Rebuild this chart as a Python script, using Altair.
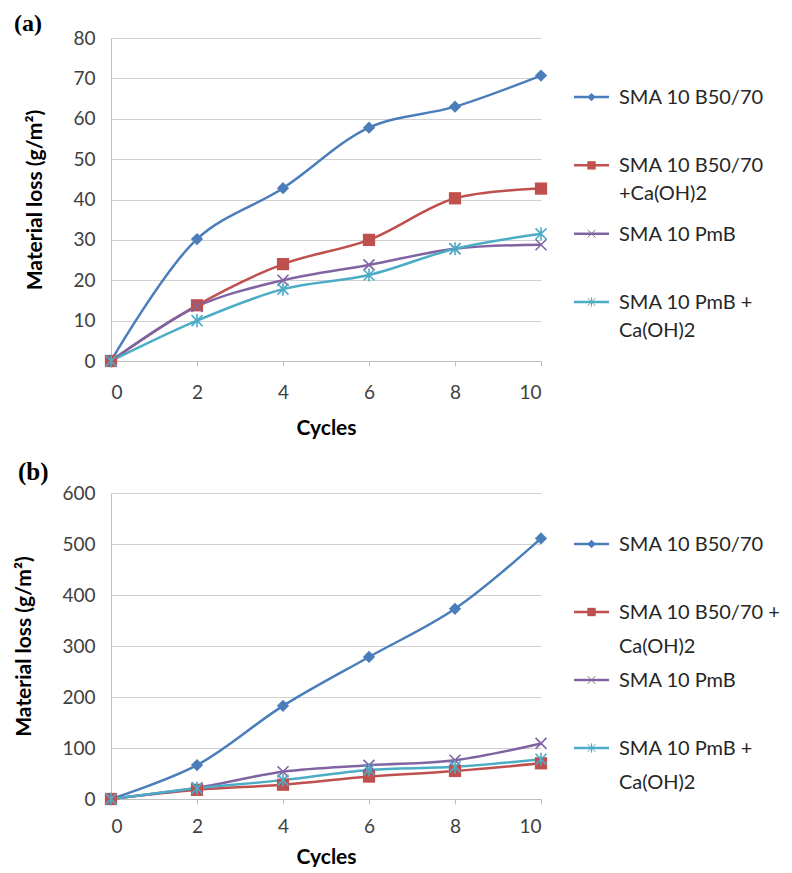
import altair as alt
import pandas as pd

cycles = [0, 2, 4, 6, 8, 10]
series_names = ["SMA 10 B50/70", "SMA 10 B50/70 +Ca(OH)2", "SMA 10 PmB", "SMA 10 PmB + Ca(OH)2"]

# panel (a)
a_b5070 = [0, 30.2, 42.8, 57.8, 63.0, 70.7]
a_b5070_ca = [0, 13.8, 24.0, 30.0, 40.3, 42.7]
a_pmb = [0, 13.5, 20.0, 23.8, 27.8, 28.8]
a_pmb_ca = [0, 10.0, 17.8, 21.3, 27.8, 31.5]

# panel (b)
b_b5070 = [0, 66.5, 182.6, 278.5, 373.0, 511.0]
b_b5070_ca = [0, 18.0, 28.0, 44.0, 55.0, 70.0]
b_pmb = [0, 22.0, 53.5, 66.0, 76.0, 109.0]
b_pmb_ca = [0, 21.0, 37.0, 57.0, 63.0, 78.0]

legend_a_labels = ["SMA 10 B50/70", "SMA 10 B50/70\n+Ca(OH)2", "SMA 10 PmB", "SMA 10 PmB +\nCa(OH)2"]
legend_b_labels = ["SMA 10 B50/70", "SMA 10 B50/70 +\nCa(OH)2", "SMA 10 PmB", "SMA 10 PmB +\nCa(OH)2"]

x_ticks = [0, 2, 4, 6, 8, 10]
y_ticks_a = [0, 10, 20, 30, 40, 50, 60, 70, 80]
y_ticks_b = [0, 100, 200, 300, 400, 500, 600]

colors = ["#4A7EBB", "#C0504D", "#8064A2", "#4BACC6"]
X_PATH = "M-1,-1L1,1M-1,1L1,-1"
STAR_PATH = "M-1,-1L1,1M-1,1L1,-1M0,-1.2L0,1.2"
shapes = ["diamond", "square", X_PATH, STAR_PATH]

FONT = "Lato"

color_scale = alt.Scale(domain=series_names, range=colors)
shape_scale = alt.Scale(domain=series_names, range=shapes)


def make_df(cols):
    rows = []
    for name, vals in zip(series_names, cols):
        for c, v in zip(cycles, vals):
            rows.append({"series": name, "cycles": c, "loss": v})
    return pd.DataFrame(rows)


def panel(df, yticks, ymax, label, height, title_offset, title_dx, title_size,
          x_label_pad, x_title_pad):
    base = alt.Chart(df)
    x = alt.X("cycles:Q", title="Cycles",
              scale=alt.Scale(domain=[0, 10], nice=False),
              axis=alt.Axis(values=x_ticks, grid=False, ticks=True, tickSize=5,
                            tickColor="#BFBFBF", domainColor="#BFBFBF",
                            labelPadding=x_label_pad, titlePadding=x_title_pad))
    y = alt.Y("loss:Q", title="Material loss (g/m²)",
              scale=alt.Scale(domain=[0, ymax], nice=False),
              axis=alt.Axis(values=yticks, grid=True, gridColor="#D0D0D0",
                            ticks=False, domainColor="#BFBFBF",
                            labelPadding=16, titlePadding=27))
    color = alt.Color("series:N", scale=color_scale, legend=None)
    shape = alt.Shape("series:N", scale=shape_scale, legend=None)
    lines = base.mark_line(interpolate="catmull-rom", strokeWidth=2.5).encode(
        x=x, y=y, color=color, detail="series:N")
    filled = base.mark_point(filled=True, size=150, opacity=1).encode(
        x=x, y=y, color=color, shape=shape).transform_filter(
        alt.FieldOneOfPredicate(field="series", oneOf=series_names[:2]))
    stroked = base.mark_point(filled=False, size=120, strokeWidth=1.6, opacity=1).encode(
        x=x, y=y, color=color, shape=shape).transform_filter(
        alt.FieldOneOfPredicate(field="series", oneOf=series_names[2:]))
    return alt.layer(lines, filled, stroked).properties(
        width=430, height=height,
        title=alt.TitleParams(label, anchor="start", frame="group", dx=title_dx,
                              font="Liberation Serif", fontSize=title_size, fontWeight="bold",
                              color="#000000", offset=title_offset))


def legend(labels, height, pad, line_height):
    df = pd.DataFrame({"series": series_names, "label": labels})
    base = alt.Chart(df)
    y = alt.Y("series:N", sort=series_names, axis=None,
              scale=alt.Scale(type="point", padding=pad))
    color = alt.Color("series:N", scale=color_scale, legend=None)
    shape = alt.Shape("series:N", scale=shape_scale, legend=None)
    rule = base.mark_rule(strokeWidth=2.5).encode(
        x=alt.value(0), x2=alt.value(35), y=y, color=color)
    pts_f = base.mark_point(filled=True, size=70, opacity=1).encode(
        x=alt.value(17.5), y=y, color=color, shape=shape).transform_filter(
        alt.FieldOneOfPredicate(field="series", oneOf=series_names[:2]))
    pts_s = base.mark_point(filled=False, size=60, strokeWidth=1, opacity=1).encode(
        x=alt.value(17.5), y=y, color=color, shape=shape).transform_filter(
        alt.FieldOneOfPredicate(field="series", oneOf=series_names[2:]))
    text = base.mark_text(align="left", baseline="alphabetic", dy=7, dx=0,
                          lineBreak="\n", lineHeight=line_height, font=FONT, fontSize=20,
                          color="#262626").encode(
        x=alt.value(45), y=y, text="label:N")
    return alt.layer(rule, pts_f, pts_s, text).properties(width=150, height=height)


df_a = make_df([a_b5070, a_b5070_ca, a_pmb, a_pmb_ca])
df_b = make_df([b_b5070, b_b5070_ca, b_pmb, b_pmb_ca])

row_a = alt.hconcat(panel(df_a, y_ticks_a, 80, "(a)", 323, -7, -97, 24, 17, 15),
                    legend(legend_a_labels, 323, 0.865, 28), spacing=22)
row_b = alt.hconcat(panel(df_b, y_ticks_b, 600, "(b)", 306, -1, -93, 25, 13, 10),
                    legend(legend_b_labels, 306, 0.75, 34), spacing=22)

chart = alt.vconcat(row_a, row_b, spacing=22).properties(
    padding={"left": 5, "top": 4, "right": 0, "bottom": 0}
).configure_axis(
    labelFont=FONT, labelFontSize=19, labelColor="#404040",
    titleFont=FONT, titleFontSize=21, titleFontWeight="bold", titleColor="#000000"
).configure_view(stroke=None)

chart.save("out.html", embed_options={"renderer": "svg", "actions": False})
